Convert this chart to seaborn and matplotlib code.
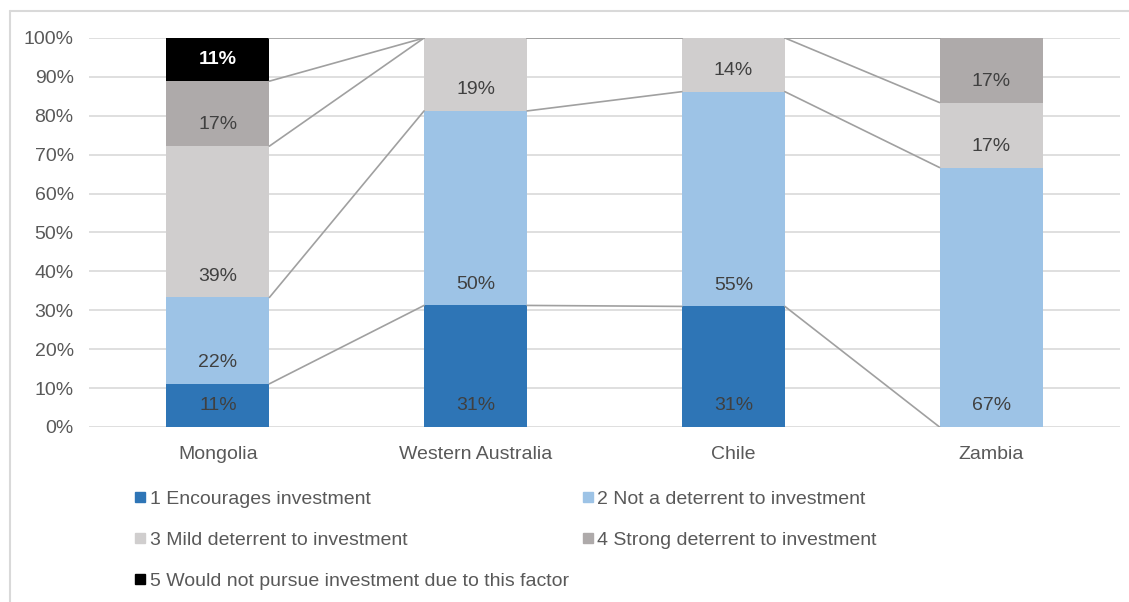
import numpy as np
import pandas as pd
import seaborn as sns
import matplotlib.pyplot as plt
from matplotlib.lines import Line2D

# data (shares in %)
countries = ['Mongolia', 'Western Australia', 'Chile', 'Zambia']
series = ['1 Encourages investment',
          '2 Not a deterrent to investment',
          '3 Mild deterrent to investment',
          '4 Strong deterrent to investment',
          '5 Would not pursue investment due to this factor']
encourages = [11.1, 31.25, 31.0, 0.0]
not_deterrent = [22.2, 50.0, 55.2, 66.7]
mild = [38.9, 18.75, 13.8, 16.7]
strong = [16.7, 0.0, 0.0, 16.6]
would_not = [11.1, 0.0, 0.0, 0.0]

colors = ['#2E75B6', '#9DC3E6', '#D0CECE', '#AEAAAA', '#000000']

vals = np.array([encourages, not_deterrent, mild, strong, would_not])
cum = vals.cumsum(axis=0)
bottoms = cum - vals

sns.set_theme(style='white')
plt.rcParams['font.family'] = ['Liberation Sans', 'DejaVu Sans']

fig = plt.figure(figsize=(11.29, 6.02), dpi=100)
ax = fig.add_axes([0.0788, 0.2907, 0.9132, 0.6462])

# stacked bars: draw cumulative heights from the top layer down
for k in range(len(series) - 1, -1, -1):
    df = pd.DataFrame({'country': countries, 'value': cum[k]})
    sns.barplot(data=df, x='country', y='value', color=colors[k], width=0.4,
                saturation=1, linewidth=0, ax=ax, zorder=2)

# series lines between neighbouring bars
hw = 0.2
for k in range(len(series)):
    for i in range(len(countries) - 1):
        ax.plot([i + hw, i + 1 - hw], [cum[k][i], cum[k][i + 1]],
                color='#A0A0A0', lw=1.2, zorder=3)

# data labels at the inside base of each segment
for k in range(len(series)):
    for i in range(len(countries)):
        v = vals[k][i]
        if v <= 0:
            continue
        c = 'white' if k == 4 else '#404040'
        w = 'bold' if k == 4 else 'normal'
        ax.text(i, bottoms[k][i] + 5.5, f'{v:.0f}%', ha='center', va='center',
                fontsize=14, color=c, fontweight=w, zorder=4)

ax.set_ylim(0, 100)
ax.set_xlim(-0.5, len(countries) - 0.5)
ax.set_yticks(np.arange(0, 101, 10))
ax.set_yticklabels([f'{t}%' for t in range(0, 101, 10)])
ax.yaxis.grid(True, color='#D9D9D9', lw=1.2, zorder=0)
ax.set_axisbelow(True)
ax.set_xlabel('')
ax.set_ylabel('')
for s in ax.spines.values():
    s.set_visible(False)
ax.tick_params(axis='both', length=0, labelsize=14, colors='#595959')
ax.tick_params(axis='x', pad=14)
ax.tick_params(axis='y', pad=11)

# legend, row-wise order in two columns
handles = [Line2D([], [], marker='s', linestyle='', color=c, markersize=6.5) for c in colors]
order = [0, 2, 4, 1, 3]
leg = fig.legend([handles[i] for i in order], [series[i] for i in order],
                 ncol=2, loc='upper left', bbox_to_anchor=(0.1196, 0.186),
                 frameon=False, fontsize=14, handlelength=0.55, handletextpad=0.2,
                 labelspacing=1.2, columnspacing=0.7, borderpad=0, borderaxespad=0)
for t in leg.get_texts():
    t.set_color('#595959')

# thin outer frame (left and top) like the source image
fig.add_artist(Line2D([10 / 1129, 10 / 1129], [0, 1 - 11 / 602], color='#D9D9D9', lw=1.5))
fig.add_artist(Line2D([10 / 1129, 1], [1 - 11 / 602, 1 - 11 / 602], color='#D9D9D9', lw=1.5))

fig.savefig('out.png', dpi=100)
